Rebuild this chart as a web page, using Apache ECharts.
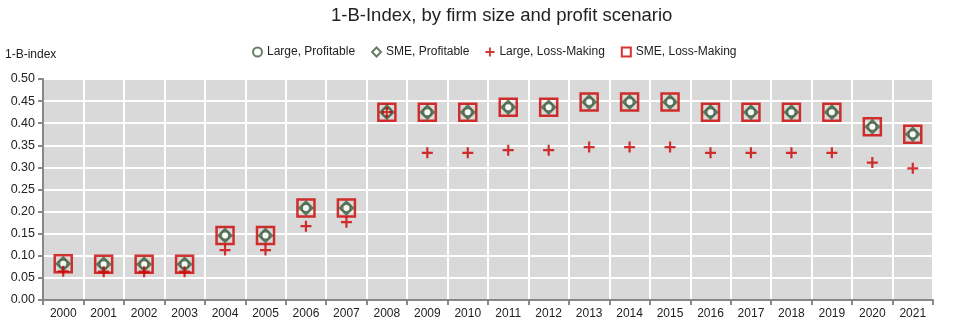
<!DOCTYPE html>
<html><head><meta charset="utf-8">
<script src="https://cdn.jsdelivr.net/npm/echarts@6/dist/echarts.min.js"></script>
<style>html,body{margin:0;padding:0;background:#fff}#c{width:975px;height:331px}</style>
</head><body><div id="c"></div>
<script>
var years = ['2000','2001','2002','2003','2004','2005','2006','2007','2008','2009','2010','2011','2012','2013','2014','2015','2016','2017','2018','2019','2020','2021'];
var largeProfitable = [0.082,0.081,0.081,0.081,0.146,0.146,0.208,0.208,0.425,0.425,0.425,0.436,0.436,0.448,0.448,0.448,0.425,0.425,0.425,0.425,0.392,0.375];
var smeProfitable   = [0.082,0.081,0.081,0.081,0.146,0.146,0.208,0.208,0.425,0.425,0.425,0.436,0.436,0.448,0.448,0.448,0.425,0.425,0.425,0.425,0.392,0.375];
var largeLoss       = [0.065,0.064,0.064,0.064,0.113,0.113,0.167,0.176,0.425,0.333,0.333,0.339,0.339,0.346,0.346,0.346,0.333,0.333,0.333,0.333,0.311,0.298];
var smeLoss         = [0.082,0.081,0.081,0.081,0.146,0.146,0.208,0.208,0.425,0.425,0.425,0.436,0.436,0.448,0.448,0.448,0.425,0.425,0.425,0.425,0.392,0.375];
var yTicks = ['0.00','0.05','0.10','0.15','0.20','0.25','0.30','0.35','0.40','0.45','0.50'];

var green = '#3f5f3f', red = '#cc0000';
var plusPath = 'path://M4,0 L6,0 L6,4 L10,4 L10,6 L6,6 L6,10 L4,10 L4,6 L0,6 L0,4 L4,4 Z';
var chart = echarts.init(document.getElementById('c'));
var font = 'Liberation Sans, Arial, sans-serif';
chart.setOption({
  animation:false,
  textStyle:{fontFamily:font},
  title:{text:'1-B-Index, by firm size and profit scenario',left:326,top:1,
    textStyle:{fontFamily:font,fontSize:18.5,fontWeight:'normal',color:'#222'}},
  legend:{top:41,left:247,itemGap:16,itemWidth:9,itemHeight:9,
    textStyle:{fontFamily:font,fontSize:12,color:'#222'},
    data:[
      {name:'Large, Profitable',icon:'circle',itemStyle:{color:'#fff',borderColor:green,borderWidth:2}},
      {name:'SME, Profitable',icon:'diamond',itemStyle:{color:'#fff',borderColor:green,borderWidth:2}},
      {name:'Large, Loss-Making',icon:plusPath,itemStyle:{color:red}},
      {name:'SME, Loss-Making',icon:'rect',itemStyle:{color:'#fff',borderColor:red,borderWidth:2}}
    ]},
  grid:{left:43,right:42,top:79,bottom:31,show:true,backgroundColor:'#d9d9d9',borderWidth:0},
  xAxis:{type:'category',data:years,boundaryGap:true,
    axisLine:{lineStyle:{color:'#888',width:2}},
    axisTick:{show:true,length:5,lineStyle:{color:'#888',width:2}},
    axisLabel:{color:'#222',fontSize:12,fontFamily:font,margin:8},
    splitLine:{show:true,interval:0,lineStyle:{color:'#fff',width:2}}},
  yAxis:{type:'value',min:0,max:0.5,interval:0.05,name:'1-B-index',
    nameLocation:'end',nameGap:18,nameTextStyle:{align:'left',padding:[0,0,0,-38],fontSize:12,color:'#222',fontFamily:font},
    axisLine:{show:true,lineStyle:{color:'#888',width:2}},
    axisTick:{show:true,length:5,lineStyle:{color:'#888',width:2}},
    axisLabel:{color:'#222',fontSize:12.5,fontFamily:font,formatter:function(v){return v.toFixed(2);}},
    splitLine:{show:true,lineStyle:{color:'#fff',width:2}}},
  series:[
    {name:'SME, Loss-Making',type:'scatter',data:smeLoss,symbol:'rect',symbolSize:17,z:2,
      itemStyle:{color:'rgba(0,0,0,0)',borderColor:red,borderWidth:2.5}},
    {name:'Large, Loss-Making',type:'scatter',data:largeLoss,symbol:plusPath,symbolSize:11,z:5,
      itemStyle:{color:red}},
    {name:'SME, Profitable',type:'scatter',data:smeProfitable,symbol:'diamond',symbolSize:13,z:3,
      itemStyle:{color:'rgba(0,0,0,0)',borderColor:green,borderWidth:2.2}},
    {name:'Large, Profitable',type:'scatter',data:largeProfitable,symbol:'circle',symbolSize:8,z:4,
      itemStyle:{color:'#fff',borderColor:green,borderWidth:2}}
  ]
});
</script></body></html>
